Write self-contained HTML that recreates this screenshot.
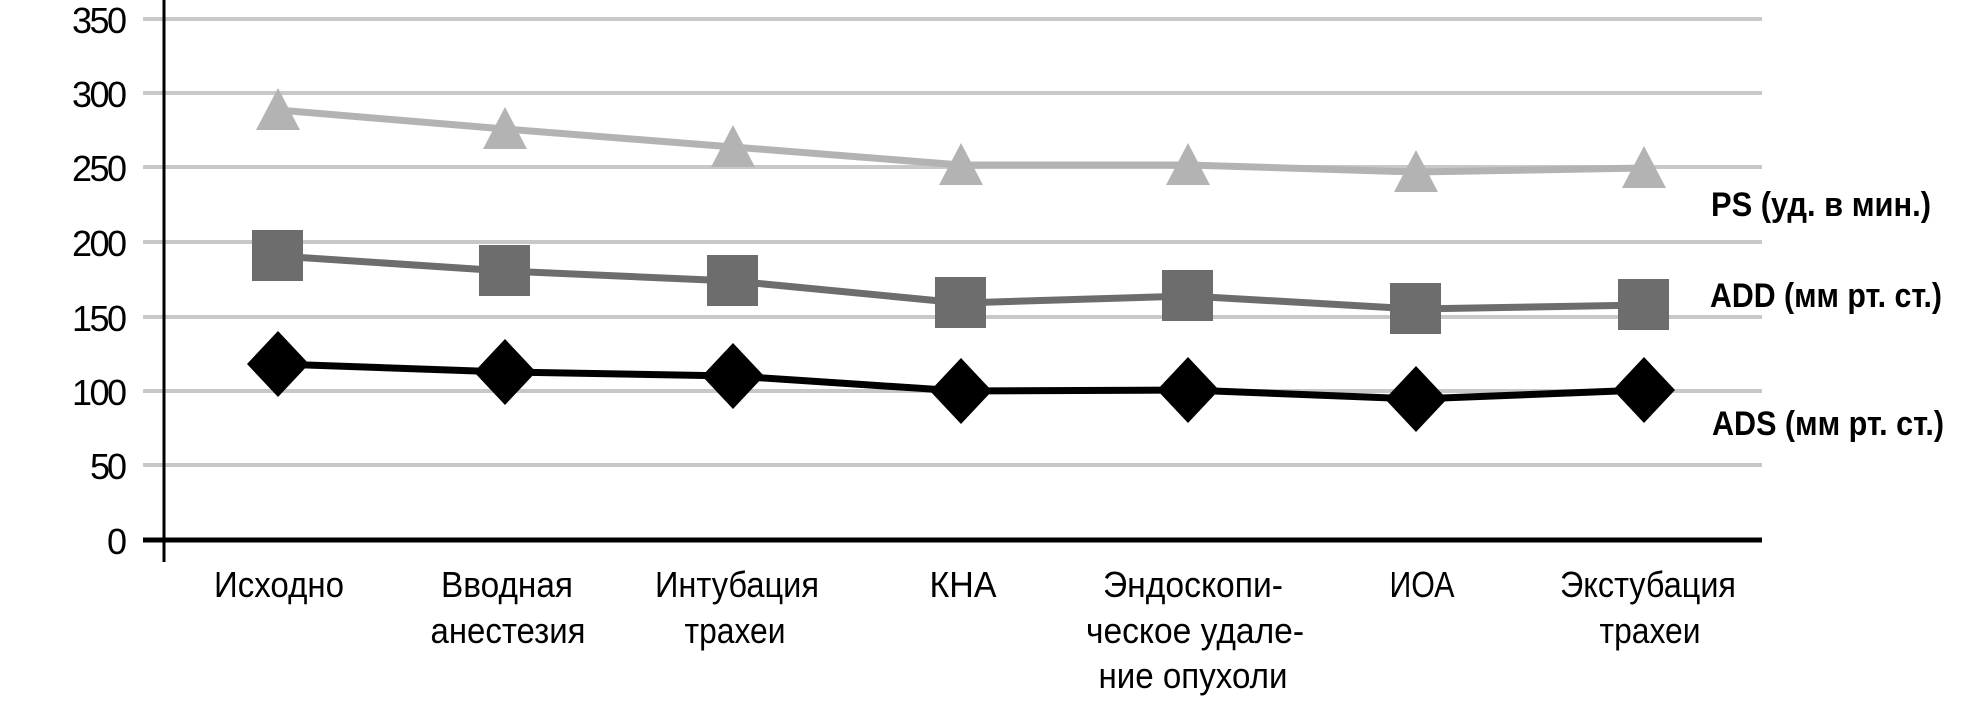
<!DOCTYPE html>
<html><head><meta charset="utf-8"><style>html,body{margin:0;padding:0;background:#fff}svg{display:block}</style></head>
<body>
<svg width="1961" height="705" xmlns="http://www.w3.org/2000/svg" font-family="'Liberation Sans', sans-serif">
<g stroke="#c8c8c8" stroke-width="4">
<line x1="143" x2="1762" y1="19" y2="19"/>
<line x1="143" x2="1762" y1="93" y2="93"/>
<line x1="143" x2="1762" y1="167" y2="167"/>
<line x1="143" x2="1762" y1="242" y2="242"/>
<line x1="143" x2="1762" y1="317" y2="317"/>
<line x1="143" x2="1762" y1="391" y2="391"/>
<line x1="143" x2="1762" y1="465" y2="465"/>
</g>
<line x1="143" x2="1762" y1="540" y2="540" stroke="#000" stroke-width="5"/>
<line x1="164" x2="164" y1="0" y2="562" stroke="#000" stroke-width="3"/>
<g font-size="36" text-anchor="end" fill="#000">
<text x="127" y="33" textLength="55">350</text>
<text x="127" y="107" textLength="55">300</text>
<text x="127" y="181" textLength="55">250</text>
<text x="127" y="256" textLength="55">200</text>
<text x="127" y="331" textLength="55">150</text>
<text x="127" y="405" textLength="55">100</text>
<text x="127" y="479" textLength="37">50</text>
<text x="127" y="554" textLength="19">0</text>
</g>
<g fill="none" stroke-width="7" stroke-linejoin="round">
<polyline stroke="#b3b3b3" points="278,110 505,129 733,147 961,165 1188,165 1416,172 1644,168"/>
<polyline stroke="#6d6d6d" points="278,256 505,271 733,281 961,303 1188,296 1416,309 1644,305"/>
<polyline stroke="#000" points="278,364 505,372 733,376 961,391 1188,390 1416,399 1644,390"/>
</g>
<g fill="#b3b3b3">
<polygon points="278,88 300,130 256,130"/><polygon points="505,107 527,149 483,149"/><polygon points="733,125 755,167 711,167"/><polygon points="961,143 983,185 939,185"/><polygon points="1188,143 1210,185 1166,185"/><polygon points="1416,150 1438,192 1394,192"/><polygon points="1644,146 1666,188 1622,188"/>
</g>
<g fill="#6d6d6d">
<rect x="252" y="230" width="51" height="51"/><rect x="479" y="245" width="51" height="51"/><rect x="707" y="255" width="51" height="51"/><rect x="935" y="277" width="51" height="51"/><rect x="1162" y="270" width="51" height="51"/><rect x="1390" y="283" width="51" height="51"/><rect x="1618" y="279" width="51" height="51"/>
</g>
<g fill="#000">
<polygon points="278,331 309,364 278,397 247,364"/><polygon points="505,339 536,372 505,405 474,372"/><polygon points="733,343 764,376 733,409 702,376"/><polygon points="961,358 992,391 961,424 930,391"/><polygon points="1188,357 1219,390 1188,423 1157,390"/><polygon points="1416,366 1447,399 1416,432 1385,399"/><polygon points="1644,357 1675,390 1644,423 1613,390"/>
</g>
<g font-size="36" text-anchor="middle" fill="#000" lengthAdjust="spacingAndGlyphs">
<text x="279" y="597" textLength="130" lengthAdjust="spacingAndGlyphs">Исходно</text>
<text x="507" y="597" textLength="132" lengthAdjust="spacingAndGlyphs">Вводная</text>
<text x="508" y="643" textLength="155" lengthAdjust="spacingAndGlyphs">анестезия</text>
<text x="737" y="597" textLength="164" lengthAdjust="spacingAndGlyphs">Интубация</text>
<text x="735" y="643" textLength="101" lengthAdjust="spacingAndGlyphs">трахеи</text>
<text x="963" y="597" textLength="67" lengthAdjust="spacingAndGlyphs">КНА</text>
<text x="1193" y="597" textLength="180" lengthAdjust="spacingAndGlyphs">Эндоскопи-</text>
<text x="1195" y="643" textLength="218" lengthAdjust="spacingAndGlyphs">ческое удале-</text>
<text x="1193" y="688" textLength="189" lengthAdjust="spacingAndGlyphs">ние опухоли</text>
<text x="1422" y="597" textLength="65" lengthAdjust="spacingAndGlyphs">ИОА</text>
<text x="1648" y="597" textLength="176" lengthAdjust="spacingAndGlyphs">Экстубация</text>
<text x="1650" y="643" textLength="101" lengthAdjust="spacingAndGlyphs">трахеи</text>
</g>
<g font-size="34" font-weight="bold" fill="#000">
<text x="1711" y="216" textLength="220" lengthAdjust="spacingAndGlyphs">PS (уд. в мин.)</text>
<text x="1710" y="307" textLength="232" lengthAdjust="spacingAndGlyphs">ADD (мм рт. ст.)</text>
<text x="1712" y="435" textLength="232" lengthAdjust="spacingAndGlyphs">ADS (мм рт. ст.)</text>
</g>
</svg>
</body></html>
